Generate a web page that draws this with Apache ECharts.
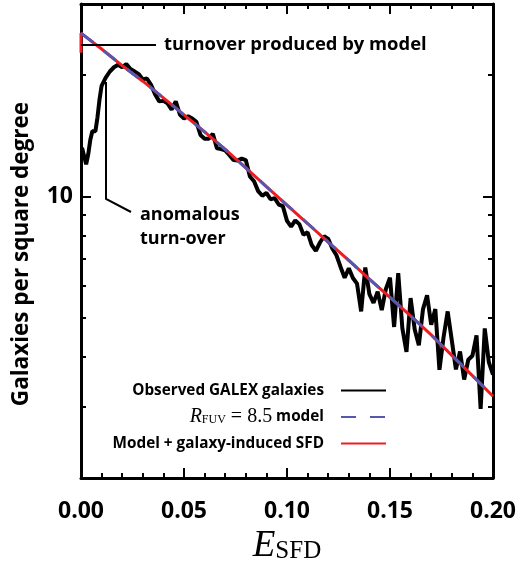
<!DOCTYPE html>
<html>
<head>
<meta charset="utf-8">
<script src="https://cdn.jsdelivr.net/npm/echarts@6/dist/echarts.min.js"></script>
<style>
  html, body { margin: 0; padding: 0; background: #fff; }
  #main { width: 526px; height: 562px; }
</style>
</head>
<body>
<div id="main"></div>
<script>
// observed GALEX galaxy counts per bin of E(B-V)
var obsE = [0.0005, 0.0025, 0.0035, 0.0045, 0.0055, 0.007, 0.008, 0.009, 0.010, 0.012,
  0.014, 0.016, 0.018, 0.020, 0.022, 0.024, 0.026,
  0.028, 0.030, 0.032, 0.034, 0.036, 0.038, 0.040, 0.042, 0.044, 0.046, 0.048,
  0.050, 0.052, 0.054, 0.056, 0.058, 0.060, 0.062, 0.064, 0.066, 0.068,
  0.070, 0.072, 0.074, 0.076, 0.078, 0.080, 0.082, 0.084, 0.086, 0.088,
  0.090, 0.092, 0.094, 0.096, 0.098, 0.100, 0.102, 0.104, 0.106, 0.108,
  0.110, 0.112, 0.114, 0.116, 0.118, 0.120, 0.122, 0.124, 0.126, 0.128,
  0.130, 0.132, 0.134, 0.136, 0.138, 0.140, 0.142, 0.144, 0.146, 0.148,
  0.150, 0.152, 0.154, 0.156, 0.158, 0.160, 0.162, 0.164, 0.166, 0.168,
  0.170, 0.172, 0.174, 0.176, 0.178, 0.180, 0.182, 0.184, 0.186, 0.188,
  0.190, 0.192, 0.194, 0.196, 0.198, 0.200];
var obsN = [13.2, 12.0, 12.7, 13.8, 14.5, 14.5, 15.7, 17.4, 18.8, 19.7,
  20.4, 20.9, 21.2, 20.9, 21.3, 20.7, 20.4,
  20.1, 19.5, 19.6, 18.9, 17.9, 17.2, 17.25, 17.0, 16.4, 17.2, 15.96,
  15.6, 15.8, 15.6, 15.3, 14.2, 13.9, 13.9, 14.3, 13.15, 13.1,
  13.0, 12.66, 12.3, 12.27, 12.4, 12.3, 11.2, 10.9, 10.3, 10.03,
  10.2, 9.83, 9.9, 9.54, 9.45, 8.69, 8.41, 8.71, 8.53, 8.03,
  8.14, 7.57, 7.32, 7.68, 7.96, 7.84, 7.42, 7.14, 6.68, 6.28,
  6.63, 6.27, 6.07, 5.18, 6.66, 5.72, 5.44, 5.80, 5.22, 5.89,
  6.28, 4.74, 6.45, 4.70, 4.11, 5.59, 4.67, 4.27, 5.24, 5.68,
  4.80, 5.25, 3.71, 4.47, 5.18, 4.39, 3.72, 4.12, 3.51, 3.93,
  4.02, 4.52, 2.97, 4.70, 3.87, 3.61];

// R_FUV = 8.5 model
var modelE = [0, 0.01, 0.02, 0.03, 0.04, 0.05, 0.06, 0.07, 0.08, 0.09, 0.10,
  0.11, 0.12, 0.13, 0.14, 0.15, 0.16, 0.17, 0.18, 0.19, 0.20];
var modelN = [25.4, 23.2, 21.1, 19.3, 17.55, 15.92, 14.45, 13.08, 11.76, 10.57, 9.51,
  8.56, 7.70, 6.93, 6.23, 5.61, 5.05, 4.53, 4.03, 3.59, 3.19];

// model + galaxy-induced SFD: the turnover at the very first bin
var sfdLeadE = [0];
var sfdLeadN = [22.7];

var majorTicksY = [10];
var minorTicksY = [3, 4, 5, 6, 7, 8, 9, 20];

function pairs(xs, ys) {
  var out = [];
  for (var i = 0; i < xs.length; i++) out.push([xs[i], ys[i]]);
  return out;
}

var SANS = '"Open Sans", "DejaVu Sans", sans-serif';
var SERIF = '"Liberation Serif", "DejaVu Serif", serif';

var chart = echarts.init(document.getElementById('main'));

function xAxisCfg(pos, labels) {
  return {
    type: 'value', position: pos, min: 0, max: 0.2, interval: 0.05,
    axisLine: { show: true, onZero: false, lineStyle: { color: '#000', width: 3 } },
    axisTick: { show: true, inside: true, length: 10, lineStyle: { color: '#000', width: 2 } },
    minorTick: { show: true, splitNumber: 5, length: 5, lineStyle: { color: '#000', width: 2 } },
    splitLine: { show: false },
    axisLabel: {
      show: labels, margin: 22, color: '#000', fontFamily: SANS, fontWeight: 'bold', fontSize: 23,
      formatter: function (v) { return v.toFixed(2); }
    }
  };
}

function yAxisCfg(pos, ticks, len, line, labels) {
  return {
    type: 'log', position: pos, min: 2, max: 30,
    axisLine: { show: line, onZero: false, lineStyle: { color: '#000', width: 3 } },
    axisTick: { show: true, inside: true, length: len, customValues: ticks, lineStyle: { color: '#000', width: 2 } },
    splitLine: { show: false },
    axisLabel: labels ? {
      show: true, customValues: majorTicksY, margin: 8, color: '#000',
      fontFamily: SANS, fontWeight: 'bold', fontSize: 23
    } : { show: false }
  };
}

var xBottom = xAxisCfg('bottom', true);
xBottom.name = '{e|E}{s|SFD}';
xBottom.nameLocation = 'middle';
xBottom.nameGap = 50;
xBottom.nameTextStyle = {
  color: '#000',
  rich: {
    e: { fontFamily: SERIF, fontStyle: 'italic', fontSize: 37, lineHeight: 36, color: '#000' },
    s: { fontFamily: SERIF, fontSize: 25, lineHeight: 25, verticalAlign: 'bottom', color: '#000' }
  }
};

var yLeft = yAxisCfg('left', majorTicksY, 10, true, true);
yLeft.name = 'Galaxies per square degree';
yLeft.nameLocation = 'middle';
yLeft.nameGap = 48;
yLeft.nameTextStyle = { color: '#000', fontFamily: SANS, fontWeight: 'bold', fontSize: 22.5, padding: [0, 26, 0, 0] };

chart.setOption({
  animation: false,
  backgroundColor: '#fff',
  grid: { left: 81, right: 33, top: 4, bottom: 84, containLabel: false, outerBoundsMode: 'none' },
  xAxis: [xBottom, xAxisCfg('top', false)],
  yAxis: [
    yLeft,
    yAxisCfg('left', minorTicksY, 5, false, false),
    yAxisCfg('right', majorTicksY, 10, true, false),
    yAxisCfg('right', minorTicksY, 5, false, false)
  ],
  legend: {
    orient: 'vertical', align: 'right', right: 134, top: 378,
    itemWidth: 45, itemHeight: 14, itemGap: 9,
    itemStyle: { opacity: 0 },
    data: ['Observed GALEX galaxies', 'model', 'Model + galaxy-induced SFD'],
    textStyle: {
      color: '#000', fontFamily: SANS, fontWeight: 'bold', fontSize: 15.3, padding: [0, 12, 0, 0],
      rich: {
        r: { fontFamily: SERIF, fontStyle: 'italic', fontWeight: 'normal', fontSize: 20, lineHeight: 18, color: '#000' },
        s: { fontFamily: SERIF, fontWeight: 'normal', fontSize: 12, lineHeight: 10, verticalAlign: 'bottom', color: '#000' },
        q: { fontFamily: SERIF, fontWeight: 'normal', fontSize: 20, lineHeight: 18, color: '#000' }
      }
    },
    formatter: function (name) {
      if (name === 'model') return '{r|R}{s|FUV}{q| = 8.5} model';
      return name;
    }
  },
  series: [
    {
      name: 'Observed GALEX galaxies', type: 'line', symbol: 'none',
      lineStyle: { color: '#000', width: 4 }, itemStyle: { color: '#000' },
      data: pairs(obsE, obsN), z: 2
    },
    {
      name: 'Model + galaxy-induced SFD', type: 'line', symbol: 'none',
      lineStyle: { color: '#ee1d24', width: 3 }, itemStyle: { color: '#ee1d24' },
      data: pairs(sfdLeadE.concat(modelE), sfdLeadN.concat(modelN)), z: 3
    },
    {
      name: 'model', type: 'line', symbol: 'none',
      lineStyle: { color: '#5558ae', width: 3, type: [15, 14] }, itemStyle: { color: '#5558ae' },
      data: pairs(modelE, modelN), z: 4
    }
  ],
  graphic: [
    { type: 'line', shape: { x1: 81, y1: 45, x2: 156, y2: 45 }, style: { stroke: '#000', lineWidth: 2 }, z: 10 },
    { type: 'text', x: 164, y: 45, style: { text: 'turnover produced by model', font: 'bold 18.4px ' + SANS, fill: '#000', verticalAlign: 'middle' }, z: 10 },
    { type: 'polyline', shape: { points: [[106, 82], [106, 199], [131, 212]] }, style: { stroke: '#000', lineWidth: 2, fill: null }, z: 10 },
    { type: 'text', x: 140, y: 215, style: { text: 'anomalous', font: 'bold 18px ' + SANS, fill: '#000', verticalAlign: 'middle' }, z: 10 },
    { type: 'text', x: 140, y: 239, style: { text: 'turn-over', font: 'bold 18px ' + SANS, fill: '#000', verticalAlign: 'middle' }, z: 10 }
  ]
});
</script>
</body>
</html>
